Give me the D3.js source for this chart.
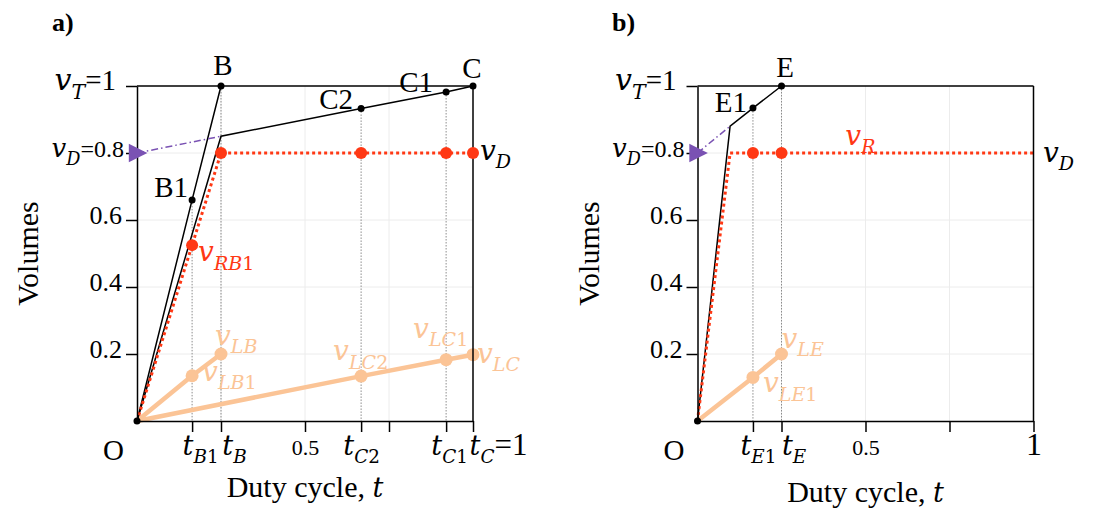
<!DOCTYPE html>
<html>
<head>
<meta charset="utf-8">
<script src="https://cdn.jsdelivr.net/npm/d3@7"></script>
<style>
  body { margin: 0; background: #fff; }
  svg { display: block; }
</style>
</head>
<body>
<svg id="chart" width="1093" height="514"></svg>
<script>
// ---------------- panel a ----------------
// black path through B1 up to B
const aBPathT = [0, 0.164, 0.25];
const aBPathV = [0, 0.66, 1];
// black path through the knee, C2 and C1 up to C
const aCPathT = [0, 0.25, 0.667, 0.92, 1];
const aCPathV = [0, 0.85, 0.933, 0.982, 1];
// red dotted v_R: ramps up to v_D and stays there
const aRPathT = [0, 0.25, 0.667, 0.92, 1];
const aRPathV = [0, 0.8, 0.8, 0.8, 0.8];
const aRDotT  = [0.164, 0.25, 0.667, 0.92, 1];
const aRDotV  = [0.525, 0.8, 0.8, 0.8, 0.8];
// light branches v_L
const aLBT = [0, 0.164, 0.25];
const aLBV = [0, 0.135, 0.2];
const aLCT = [0, 0.667, 0.92, 1];
const aLCV = [0, 0.134, 0.183, 0.198];
// named black points
const aPointNames = ["B1", "B", "C2", "C1", "C"];
const aPointT     = [0.164, 0.25, 0.667, 0.92, 1];
const aPointV     = [0.66, 1, 0.933, 0.982, 1];
// duty-cycle ticks
const aXTicks      = [0.164, 0.25, 0.5, 0.667, 0.75, 0.92, 1];
const aXTickLabels = ["t_{B1}", "t_{B}", "0.5", "t_{C2}", "", "t_{C1}", "t_{C}=1"];
// knee the dash-dot guide points to
const aKneeT = 0.25, aKneeV = 0.85;

// ---------------- panel b ----------------
const bEPathT = [0, 0.097, 0.165, 0.25];
const bEPathV = [0, 0.88, 0.934, 1];
const bRPathT = [0, 0.097, 0.165, 0.25, 1];
const bRPathV = [0, 0.8, 0.8, 0.8, 0.8];
const bRDotT  = [0.165, 0.25];
const bRDotV  = [0.8, 0.8];
const bLET = [0, 0.165, 0.25];
const bLEV = [0, 0.13, 0.2];
const bPointNames = ["E1", "E"];
const bPointT     = [0.165, 0.25];
const bPointV     = [0.934, 1];
const bXTicks      = [0.165, 0.25, 0.5, 0.75, 1];
const bXTickLabels = ["t_{E1}", "t_{E}", "0.5", "", "1"];
const bKneeT = 0.097, bKneeV = 0.88;

// ---------------- shared ----------------
const yTicks      = [0.2, 0.4, 0.6, 0.8, 1];
const yTickLabels = ["0.2", "0.4", "0.6", "v_{D}=0.8", "v_{T}=1"];
const gridT = [0.25, 0.5, 0.75];
const gridV = [0.2, 0.4, 0.6, 0.8];
const vD = 0.8;

const SERIF = "'Liberation Serif', 'Times New Roman', serif";
const MATH  = "'DejaVu Serif', serif";
const RED = "#ff3814", PEACH = "#fbc496", PURPLE = "#7a52b3";

const svg = d3.select("#chart");

// Writes "x_{sub}rest": italic base, subscript (letters italic, digits upright), plain suffix
function richText(sel, str, size, suffixSize) {
  sel.text(null);
  const m = /^(\w)_\{([^}]*)\}(.*)$/.exec(str);
  if (!m) { sel.append("tspan").attr("font-size", size).text(str); return; }
  const sub = size * 0.68, shift = size * 0.3;
  sel.append("tspan").attr("font-family", MATH).attr("font-style", "italic")
    .attr("font-size", size).text(m[1]);
  m[2].match(/\d+|\D+/g).forEach((run, i) => {
    const ts = sel.append("tspan").attr("font-family", MATH).attr("font-size", sub)
      .attr("font-style", /\d/.test(run) ? "normal" : "italic").text(run);
    if (i === 0) ts.attr("dy", shift);
  });
  if (m[3]) sel.append("tspan").attr("dy", -shift).attr("font-family", SERIF)
    .attr("font-size", suffixSize || size).attr("font-style", "normal").text(m[3]);
}

function pairs(ts, vs) { return ts.map((t, i) => [t, vs[i]]); }

function drawPanel(p) {
  const x = d3.scaleLinear().domain([0, 1]).range(p.xRange);
  const y = d3.scaleLinear().domain([0, 1]).range([421, 86]);
  const g = svg.append("g");
  const line = d3.line().x(d => x(d[0])).y(d => y(d[1]));

  // grid
  g.selectAll(".gx").data(gridT).join("line")
    .attr("x1", d => x(d)).attr("x2", d => x(d)).attr("y1", y(0)).attr("y2", y(1))
    .attr("stroke", "#ececec").attr("stroke-width", 1);
  g.selectAll(".gy").data(gridV).join("line")
    .attr("y1", d => y(d)).attr("y2", d => y(d)).attr("x1", x(0)).attr("x2", x(1))
    .attr("stroke", "#ececec").attr("stroke-width", 1);

  // dotted drop lines under the named points
  g.selectAll(".drop").data(pairs(p.pointT, p.pointV).filter(d => d[0] < 1)).join("line")
    .attr("x1", d => x(d[0])).attr("x2", d => x(d[0]))
    .attr("y1", d => y(d[1])).attr("y2", y(0))
    .attr("stroke", "#8c8c8c").attr("stroke-width", 1).attr("stroke-dasharray", "1.5,1.5");

  // light v_L branches
  p.light.forEach(l => {
    g.append("path").attr("d", line(pairs(l.t, l.v)))
      .attr("fill", "none").attr("stroke", PEACH).attr("stroke-width", 4.5)
      .attr("stroke-linejoin", "round");
    g.selectAll(null).data(pairs(l.t, l.v).slice(1)).join("circle")
      .attr("cx", d => x(d[0])).attr("cy", d => y(d[1])).attr("r", 6.5).attr("fill", PEACH);
  });

  // black total-volume paths
  p.black.forEach(l => {
    g.append("path").attr("d", line(pairs(l.t, l.v)))
      .attr("fill", "none").attr("stroke", "#000").attr("stroke-width", 1.5);
  });

  // red dotted v_R
  g.append("path").attr("d", line(pairs(p.rT, p.rV)))
    .attr("fill", "none").attr("stroke", RED).attr("stroke-width", 3)
    .attr("stroke-dasharray", "3,3");

  // dash-dot guide from the v_D marker to the knee
  g.append("line")
    .attr("x1", x(0)).attr("y1", y(vD)).attr("x2", x(p.knee[0])).attr("y2", y(p.knee[1]))
    .attr("stroke", PURPLE).attr("stroke-width", 1.5).attr("stroke-dasharray", "7,3,1.5,3");

  // axes and frame
  const yAxis = d3.axisLeft(y).tickValues(yTicks).tickSize(11).tickSizeOuter(0).tickPadding(4)
    .tickFormat((d, i) => yTickLabels[i]);
  const ya = g.append("g").attr("transform", `translate(${x(0)},0)`).call(yAxis);
  const xAxis = d3.axisBottom(x).tickValues(p.xTicks).tickSize(11).tickSizeOuter(0)
    .tickFormat((d, i) => p.xTickLabels[i]);
  const xa = g.append("g").attr("transform", `translate(0,${y(0)})`).call(xAxis);
  [ya, xa].forEach(a => {
    a.attr("font-family", SERIF);
    a.selectAll("path, line").attr("stroke", "#000").attr("stroke-width", 1.5);
    a.selectAll("text").attr("fill", "#000");
  });
  ya.selectAll(".tick text").each(function (d, i) {
    const t = d3.select(this).attr("dy", "0.33em");
    if (i === 4) { richText(t, yTickLabels[i], 30, 29); t.attr("dx", -6).attr("dy", "0.3em"); }
    else if (i === 3) { richText(t, yTickLabels[i], 26, 24); t.attr("dx", 2); }
    else { richText(t, yTickLabels[i], 26); }
  });
  xa.selectAll(".tick text").each(function (d, i) {
    const t = d3.select(this).attr("y", 34).attr("dy", 0).attr("dx", p.xTickDx[i]);
    const s = p.xTickLabels[i];
    if (s === "0.5") richText(t, s, 22);
    else if (s === "1") richText(t, s, 32);
    else richText(t, s, 27, 31);
  });
  g.append("line").attr("x1", x(0)).attr("x2", x(1)).attr("y1", y(1)).attr("y2", y(1))
    .attr("stroke", "#000").attr("stroke-width", 1.5);
  g.append("line").attr("x1", x(1)).attr("x2", x(1)).attr("y1", y(1)).attr("y2", y(0))
    .attr("stroke", "#000").attr("stroke-width", 1.5);

  // v_D marker on the volume axis
  g.append("path")
    .attr("d", d3.symbol(d3.symbolTriangle, 150)())
    .attr("transform", `translate(${x(0) - 2},${y(vD)}) scale(1.15,1) rotate(90)`)
    .attr("fill", PURPLE);

  // red dots
  g.selectAll(null).data(pairs(p.rDotT, p.rDotV)).join("circle")
    .attr("cx", d => x(d[0])).attr("cy", d => y(d[1])).attr("r", 6).attr("fill", RED);

  // black points incl. origin
  g.selectAll(null).data([[0, 0]].concat(pairs(p.pointT, p.pointV))).join("circle")
    .attr("cx", d => x(d[0])).attr("cy", d => y(d[1])).attr("r", 3.5).attr("fill", "#000");

  // point names
  p.pointNames.forEach((n, i) => {
    const o = p.nameOffsets[i];
    g.append("text").attr("x", x(p.pointT[i]) + o[0]).attr("y", y(p.pointV[i]) + o[1])
      .attr("text-anchor", o[2]).attr("font-family", SERIF).attr("font-size", 29)
      .attr("fill", "#000").text(n);
  });

  // math labels
  p.mathLabels.forEach(m => {
    const t = g.append("text").attr("x", x(m.t) + m.dx).attr("y", y(m.v) + m.dy)
      .attr("fill", m.color).attr("text-anchor", "start");
    richText(t, m.text, 28);
  });

  // origin, titles
  g.append("text").attr("x", x(0) - 13).attr("y", 460).attr("text-anchor", "end")
    .attr("font-family", SERIF).attr("font-size", 29).text("O");
  g.append("text").attr("x", p.titleX).attr("y", 31)
    .attr("font-family", SERIF).attr("font-size", 26).attr("font-weight", "bold").text(p.title);

  const xl = g.append("text").attr("x", (x(0) + x(1)) / 2).attr("y", p.xLabelY)
    .attr("text-anchor", "middle").attr("font-family", SERIF).attr("font-size", 30);
  xl.append("tspan").text("Duty cycle, ");
  xl.append("tspan").attr("font-family", MATH).attr("font-style", "italic").attr("font-size", 27).text("t");

  g.append("text").attr("transform", `translate(${x(0) - 99},${(y(0) + y(1)) / 2}) rotate(-90)`)
    .attr("text-anchor", "middle").attr("font-family", SERIF).attr("font-size", 30).text("Volumes");
}

drawPanel({
  xRange: [137, 473], title: "a)", titleX: 52, xLabelY: 497,
  black: [{ t: aBPathT, v: aBPathV }, { t: aCPathT, v: aCPathV }],
  light: [{ t: aLBT, v: aLBV }, { t: aLCT, v: aLCV }],
  rT: aRPathT, rV: aRPathV, rDotT: aRDotT, rDotV: aRDotV,
  knee: [aKneeT, aKneeV],
  pointNames: aPointNames, pointT: aPointT, pointV: aPointV,
  nameOffsets: [[-4, -3, "end"], [2, -11, "middle"], [-8, 1, "end"], [-13, 0, "end"], [-1, -8, "middle"]],
  xTicks: aXTicks, xTickLabels: aXTickLabels, xTickDx: [8, 13, 0, 0, 0, 3, 25],
  mathLabels: [
    { text: "v_{RB1}", t: aRDotT[0], v: aRDotV[0], dx: 6, dy: 16, color: RED },
    { text: "v_{D}", t: 1, v: vD, dx: 7, dy: 7, color: "#000" },
    { text: "v_{LB}", t: aLBT[2], v: aLBV[2], dx: -6, dy: -9, color: PEACH },
    { text: "v_{LB1}", t: aLBT[1], v: aLBV[1], dx: 10, dy: 5, color: PEACH },
    { text: "v_{LC2}", t: aLCT[1], v: aLCV[1], dx: -28, dy: -16, color: PEACH },
    { text: "v_{LC1}", t: aLCT[2], v: aLCV[2], dx: -33, dy: -22, color: PEACH },
    { text: "v_{LC}", t: aLCT[3], v: aLCV[3], dx: 4, dy: 8, color: PEACH }
  ]
});

drawPanel({
  xRange: [697.5, 1033.5], title: "b)", titleX: 612, xLabelY: 502,
  black: [{ t: bEPathT, v: bEPathV }],
  light: [{ t: bLET, v: bLEV }],
  rT: bRPathT, rV: bRPathV, rDotT: bRDotT, rDotV: bRDotV,
  knee: [bKneeT, bKneeV],
  pointNames: bPointNames, pointT: bPointT, pointV: bPointV,
  nameOffsets: [[-6, 3.5, "end"], [3.5, -9, "middle"]],
  xTicks: bXTicks, xTickLabels: bXTickLabels, xTickDx: [5, 12, 0, 0, 0],
  mathLabels: [
    { text: "v_{R}", t: 0.44, v: vD, dx: 0, dy: -8, color: RED },
    { text: "v_{D}", t: 1, v: vD, dx: 9.5, dy: 9, color: "#000" },
    { text: "v_{LE}", t: bLET[2], v: bLEV[2], dx: 0, dy: -6, color: PEACH },
    { text: "v_{LE1}", t: bLET[1], v: bLEV[1], dx: 10, dy: 15, color: PEACH }
  ]
});
</script>
</body>
</html>
